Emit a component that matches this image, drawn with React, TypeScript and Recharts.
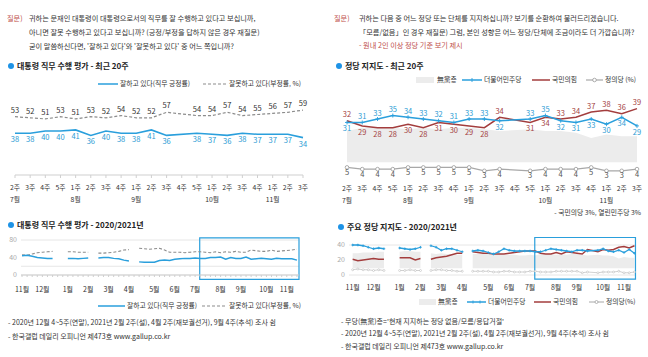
import React from 'react';
import {
  LineChart, Line, ComposedChart, Area, XAxis, YAxis, CartesianGrid, LabelList, ReferenceArea,
} from 'recharts';

const FONT = "'Noto Sans CJK KR', 'Noto Sans', sans-serif";
const BLUE = '#2a9fdc';
const BLUE_TXT = '#2b9bd4';
const RED = '#a33d3d';
const RED_TXT = '#a4423f';
const DASH = '#8c8c8c';
const JUSTICE = '#a8a8a8';
const AREA = '#ececec';
const TXT = '#333';
const Q_RED = '#c0504d';

// 최근 20주: 2021년 7월 2주 ~ 11월 3주 (9월 4주 추석 조사 쉼)
const recentWeeks = ['2주', '3주', '4주', '5주', '1주', '2주', '3주', '4주', '1주', '2주', '3주', '4주', '5주', '1주', '2주', '3주', '4주', '1주', '2주', '3주'];
const recentMonths = ['7월', '', '', '', '8월', '', '', '', '9월', '', '', '', '', '10월', '', '', '', '11월', '', ''];
const recentApproval = [38, 38, 40, 40, 41, 36, 40, 38, 38, 41, 36, null, 38, 37, 36, 38, 37, 37, 37, 34];
const recentDisapproval = [53, 52, 51, 53, 51, 53, 52, 54, 52, 52, 57, null, 54, 54, 57, 54, 55, 56, 57, 59];
const recentMinjoo = [31, 31, 33, 35, 34, 33, 32, 31, 33, 33, 32, null, 33, 35, 32, 31, 33, 30, 34, 29];
const recentPpp = [32, 29, 28, 28, 30, 28, 31, 30, 29, 28, 34, null, 31, 34, 33, 34, 37, 38, 36, 39];
const recentJustice = [5, 4, 4, 4, 5, 5, 5, 5, 5, 3, 4, null, 3, 4, 4, 4, 5, 3, 3, 4];
const recentIndependent = [26, 28, 28, 28, 27, 28, 27, 28, 28, 27, 26, null, 27, 26, 26, 25, 22, 24, 23, 23];

// 2020년 11월 1주 ~ 2021년 7월 1주 (35주), 조사 쉼은 null
const earlyApproval = [44, 45, 43, 40, 39, 38, 38, null, null, 38, 38, 37, 38, 39, null, 39, 40, 40, 38, 37, 34, 32, null, 30, 29, 29, 29, 33, 34, 33, 36, 37, 38, 38, 39];
const earlyDisapproval = [46, 45, 48, 51, 52, 53, 54, null, null, 53, 53, 52, 52, 52, null, 50, 50, 51, 52, 54, 57, 58, null, 61, 60, 59, 60, 61, 57, 52, 52, 52, 51, 52, 53];
const earlyMinjoo = [40, 40, 39, 37, 35, 36, 35, null, null, 36, 35, 34, 35, 37, null, 39, 37, 33, 35, 35, 33, 31, null, 32, 33, 32, 30, 28, 31, 35, 33, 32, 32, 32, 32];
const earlyPpp = [21, 19, 20, 21, 22, 21, 21, null, null, 23, 23, 23, 20, 22, null, 21, 23, 24, 25, 27, 29, 29, null, 31, 30, 29, 29, 28, 28, 28, 29, 30, 31, 32, 32];
const earlyJustice = [7, 8, 7, 7, 6, 7, 6, null, null, 6, 6, 7, 6, 6, null, 6, 7, 7, 6, 6, 5, 5, null, 5, 5, 5, 5, 4, 4, 5, 5, 4, 4, 4, 5];
const earlyIndependent = [29, 29, 30, 30, 30, 31, 31, null, null, 31, 32, 32, 31, 31, null, 29, 28, 29, 28, 28, 27, 27, null, 28, 28, 29, 29, 30, 28, 27, 27, 27, 26, 26, 27];

const monthStarts = [0, 4, 9, 13, 17, 21, 26, 30, 34, 39, 43, 48, 52];
const monthNames = ['11월', '12월', '1월', '2월', '3월', '4월', '5월', '6월', '7월', '8월', '9월', '10월', '11월'];
const CHUSEOK = 46; // 2021년 9월 4주

const recentRows = recentWeeks.map((w, i) => ({
  key: String(i),
  approval: recentApproval[i],
  disapproval: recentDisapproval[i],
  minjoo: recentMinjoo[i],
  ppp: recentPpp[i],
  justice: recentJustice[i],
  independent: recentIndependent[i],
}));

const allApproval = [...earlyApproval, ...recentApproval];
const allDisapproval = [...earlyDisapproval, ...recentDisapproval];
const allMinjoo = [...earlyMinjoo, ...recentMinjoo];
const allPpp = [...earlyPpp, ...recentPpp];
const allJustice = [...earlyJustice, ...recentJustice];
const allIndependent = [...earlyIndependent, ...recentIndependent];

const longRows = allApproval
  .map((_, i) => ({
    i,
    approval: allApproval[i],
    disapproval: allDisapproval[i],
    minjoo: allMinjoo[i],
    ppp: allPpp[i],
    justice: allJustice[i],
    independent: allIndependent[i],
  }))
  .filter((r) => r.i !== CHUSEOK);

const weekTicks = allApproval.map((_, i) => i);

const WeekTick = (props: any) => {
  const { x, y, payload } = props;
  const i = Number(payload.value);
  return (
    <g>
      <text x={x} y={y + 9.5} textAnchor="middle" fontSize={6.8} fill={TXT} fontFamily={FONT}>{recentWeeks[i]}</text>
      {recentMonths[i] ? (
        <text x={x} y={y + 21.5} textAnchor="middle" fontSize={6.8} fill={TXT} fontFamily={FONT}>{recentMonths[i]}</text>
      ) : null}
    </g>
  );
};

const MonthTick = (props: any) => {
  const { x, y, payload } = props;
  const k = monthStarts.indexOf(Number(payload.value));
  if (k < 0) return <g />;
  return (
    <text x={x} y={y + 13} textAnchor="middle" fontSize={7} fill={TXT} fontFamily={FONT}>{monthNames[k]}</text>
  );
};

const makeLabel = (color: string, isTop: (i: number) => boolean, up = 3.5, down = 9) => (props: any) => {
  const x = props.x ?? props.viewBox?.x;
  const y = props.y ?? props.viewBox?.y;
  const { value, index } = props;
  if (value == null || x == null || y == null) return null;
  const top = isTop(index);
  return (
    <text key={index} x={x} y={top ? y - up : y + down} textAnchor="middle" fontSize={7.5} fill={color} fontFamily={FONT}>
      {value}
    </text>
  );
};

const plusDot = (size: number) => (props: any) => {
  const { cx, cy, index, value } = props;
  if (cx == null || cy == null || value == null) return <g key={index} />;
  return (
    <path key={index} d={`M${cx - size},${cy}H${cx + size}M${cx},${cy - size}V${cy + size}`} stroke={BLUE} strokeWidth={0.9} />
  );
};

const TopLeftChart = () => (
  <LineChart width={324} height={120} data={recentRows} margin={{ top: 8, right: 21, left: 15, bottom: 5 }}>
    <XAxis dataKey="key" height={30} axisLine={{ stroke: '#cfcfcf' }} tickLine={{ stroke: '#cfcfcf' }} tickSize={3} interval={0} tick={<WeekTick />} />
    <YAxis hide domain={[0, 70]} />
    <Line dataKey="disapproval" stroke={DASH} strokeWidth={1.2} strokeDasharray="3 2" dot={false} connectNulls isAnimationActive={false}>
      <LabelList dataKey="disapproval" content={makeLabel('#333', () => true, 4)} />
    </Line>
    <Line dataKey="approval" stroke={BLUE} strokeWidth={1.6} dot={false} connectNulls isAnimationActive={false}>
      <LabelList dataKey="approval" content={makeLabel(BLUE_TXT, () => false, 4, 9)} />
    </Line>
  </LineChart>
);

const TopRightChart = () => (
  <ComposedChart width={324} height={120} data={recentRows} margin={{ top: 10, right: 11, left: 23, bottom: 4 }}>
    <XAxis dataKey="key" height={30} axisLine={false} tickLine={false} tickSize={3} interval={0} tick={<WeekTick />} />
    <YAxis hide domain={[0, 44]} />
    <Area dataKey="independent" baseValue={8} stroke="none" fill={AREA} fillOpacity={1} connectNulls isAnimationActive={false} />
    <Line dataKey="justice" stroke={JUSTICE} strokeWidth={1.2} dot={{ r: 1.8, stroke: '#999', strokeWidth: 0.8, fill: '#fff' }} connectNulls isAnimationActive={false}>
      <LabelList dataKey="justice" content={makeLabel('#555', () => false, 4, 7.5)} />
    </Line>
    <Line dataKey="ppp" stroke={RED} strokeWidth={1.5} dot={false} connectNulls isAnimationActive={false}>
      <LabelList dataKey="ppp" content={makeLabel(RED_TXT, (i) => (recentPpp[i] ?? 0) > (recentMinjoo[i] ?? 0))} />
    </Line>
    <Line dataKey="minjoo" stroke={BLUE} strokeWidth={1.5} dot={plusDot(2)} connectNulls isAnimationActive={false}>
      <LabelList dataKey="minjoo" content={makeLabel(BLUE_TXT, (i) => (recentMinjoo[i] ?? 0) > (recentPpp[i] ?? 0))} />
    </Line>
  </ComposedChart>
);

const BottomLeftChart = () => (
  <LineChart width={324} height={70} data={longRows} margin={{ top: 10, right: 25, left: 0, bottom: 5 }}>
    <CartesianGrid vertical={false} stroke="#e6e6e6" />
    <XAxis dataKey="i" type="number" domain={[-0.2, 54.4]} ticks={weekTicks} interval={0} height={20} axisLine={{ stroke: '#cfcfcf' }} tickLine={{ stroke: '#cfcfcf' }} tickSize={2} tick={<MonthTick />} />
    <YAxis domain={[0, 80]} ticks={[0, 20, 40, 60, 80]} width={21} axisLine={false} tickLine={false} tickSize={0} tickMargin={4} tick={{ fontSize: 7, fill: '#aaa', fontFamily: FONT }} />
    <Line dataKey="disapproval" stroke={DASH} strokeWidth={1.1} strokeDasharray="3 2" dot={false} isAnimationActive={false} />
    <Line dataKey="approval" stroke={BLUE} strokeWidth={1.5} dot={false} isAnimationActive={false} />
    <ReferenceArea x1={34.9} x2={54.4} y1={-10} y2={85} ifOverflow="visible" fill="none" fillOpacity={0} stroke={BLUE} strokeWidth={1.2} />
  </LineChart>
);

const BottomRightChart = () => (
  <ComposedChart width={324} height={60} data={longRows} margin={{ top: 10, right: 12, left: 0, bottom: 4 }}>
    <CartesianGrid vertical={false} stroke="#e6e6e6" />
    <XAxis dataKey="i" type="number" domain={[-0.7, 54.3]} ticks={weekTicks} interval={0} height={16} axisLine={false} tickLine={false} tickSize={0} tick={<MonthTick />} />
    <YAxis domain={[0, 40]} ticks={[0, 20, 40]} width={25} axisLine={false} tickLine={false} tickSize={0} tickMargin={4} tick={{ fontSize: 7, fill: '#aaa', fontFamily: FONT }} />
    <Area dataKey="independent" baseValue={9} stroke="none" fill={AREA} fillOpacity={1} isAnimationActive={false} />
    <Line dataKey="justice" stroke="#bdbdbd" strokeWidth={0.7} dot={{ r: 1, stroke: '#b5b5b5', strokeWidth: 0.5, fill: '#fff' }} isAnimationActive={false} />
    <Line dataKey="ppp" stroke={RED} strokeWidth={1.4} dot={false} isAnimationActive={false} />
    <Line dataKey="minjoo" stroke={BLUE} strokeWidth={1.3} dot={plusDot(1.3)} isAnimationActive={false} />
    <ReferenceArea x1={34.9} x2={54.2} y1={-5.5} y2={50} ifOverflow="visible" fill="none" fillOpacity={0} stroke={BLUE} strokeWidth={1.2} />
  </ComposedChart>
);

const Txt = ({ x, y, size = 7.2, color = TXT, bold = false, anchor = 'start', children }: any) => (
  <text x={x} y={y + size * 0.36} fontSize={size} fill={color} fontWeight={bold ? 700 : 400} textAnchor={anchor} fontFamily={FONT}>
    {children}
  </text>
);

const Title = ({ x, y, children }: any) => (
  <g>
    <circle cx={x + 3} cy={y} r={3} fill="#1e93e6" />
    <Txt x={x + 9} y={y} size={8} bold color="#222">{children}</Txt>
  </g>
);

const SolidKey = ({ x1, x2, y, color }: any) => <line x1={x1} x2={x2} y1={y} y2={y} stroke={color} strokeWidth={1.5} />;

export default function App() {
  return (
    <div style={{ position: 'absolute', left: 0, top: 0, width: 648, height: 357, background: '#fff', overflow: 'hidden' }}>
      <div style={{ position: 'absolute', left: 0, top: 90 }}><TopLeftChart /></div>
      <div style={{ position: 'absolute', left: 324, top: 90 }}><TopRightChart /></div>
      <div style={{ position: 'absolute', left: 0, top: 230 }}><BottomLeftChart /></div>
      <div style={{ position: 'absolute', left: 324, top: 235 }}><BottomRightChart /></div>

      <svg width={648} height={357} style={{ position: 'absolute', left: 0, top: 0, pointerEvents: 'none' }}>
        {/* 질문 (왼쪽) */}
        <Txt x={7} y={18} color={Q_RED}>질문)</Txt>
        <Txt x={29} y={18}>귀하는 문재인 대통령이 대통령으로서의 직무를 잘 수행하고 있다고 보십니까,</Txt>
        <Txt x={29} y={32}>아니면 잘못 수행하고 있다고 보십니까? (긍정/부정을 답하지 않은 경우 재질문)</Txt>
        <Txt x={29} y={46}>굳이 말씀하신다면, '잘하고 있다'와 '잘못하고 있다' 중 어느 쪽입니까?</Txt>

        {/* 질문 (오른쪽) */}
        <Txt x={334} y={18} color={Q_RED}>질문)</Txt>
        <Txt x={359} y={18}>귀하는 다음 중 어느 정당 또는 단체를 지지하십니까? 보기를 순환하여 불러드리겠습니다.</Txt>
        <Txt x={359} y={32}>「모름/없음」인 경우 재질문) 그럼, 본인 성향은 어느 정당/단체에 조금이라도 더 가깝습니까?</Txt>
        <Txt x={359} y={45} color={Q_RED}>- 원내 2인 이상 정당 기준 보기 제시</Txt>

        <Title x={8} y={66}>대통령 직무 수행 평가 - 최근 20주</Title>
        <Title x={336} y={66}>정당 지지도 - 최근 20주</Title>

        {/* 범례: 직무 평가 최근 20주 */}
        <SolidKey x1={98} x2={118} y={84} color={BLUE} />
        <Txt x={120} y={84} size={6.8}>잘하고 있다(직무 긍정률)</Txt>
        <line x1={203} x2={227} y1={84} y2={84} stroke={DASH} strokeWidth={1.1} strokeDasharray="3 2" />
        <Txt x={229} y={84} size={6.8}>잘못하고 있다(부정률, %)</Txt>

        {/* 범례: 정당 지지도 최근 20주 */}
        <rect x={416} y={77} width={18} height={6} fill={AREA} />
        <Txt x={437} y={80} size={6.8}>無黨층</Txt>
        <SolidKey x1={462} x2={482} y={80} color={BLUE} />
        <path d="M472,78V82" stroke={BLUE} strokeWidth={0.9} />
        <Txt x={484} y={80} size={6.8}>더불어민주당</Txt>
        <SolidKey x1={532} x2={550} y={80} color={RED} />
        <Txt x={552} y={80} size={6.8}>국민의힘</Txt>
        <line x1={586} x2={603} y1={80} y2={80} stroke={JUSTICE} strokeWidth={1.2} />
        <circle cx={594.5} cy={80} r={1.8} fill="#fff" stroke="#999" strokeWidth={0.8} />
        <Txt x={605} y={80} size={6.8}>정의당 (%)</Txt>

        <Txt x={641} y={213} size={6.8} anchor="end">- 국민의당 3%, 열린민주당 3%</Txt>

        <Title x={8} y={225}>대통령 직무 수행 평가 - 2020/2021년</Title>
        <Title x={338} y={227}>주요 정당 지지도 - 2020/2021년</Title>

        {/* 범례: 직무 평가 2020/2021 */}
        <SolidKey x1={98} x2={125} y={306} color={BLUE} />
        <Txt x={127} y={306} size={6.8}>잘하고 있다(직무 긍정률)</Txt>
        <line x1={202} x2={227} y1={306} y2={306} stroke={DASH} strokeWidth={1.1} strokeDasharray="3 2" />
        <Txt x={229} y={306} size={6.8}>잘못하고 있다(부정률, %)</Txt>
        <Txt x={8} y={322} size={7}>- 2020년 12월 4~5주(연말), 2021년 2월 2주(설), 4월 2주(재보궐선거), 9월 4주(추석) 조사 쉼</Txt>
        <Txt x={8} y={336} size={7}>- 한국갤럽 데일리 오피니언 제473호 www.gallup.co.kr</Txt>

        {/* 범례: 정당 지지도 2020/2021 */}
        <rect x={419} y={299} width={17} height={6} fill={AREA} />
        <Txt x={438} y={302} size={6.8}>無黨층</Txt>
        <SolidKey x1={467} x2={486} y={302} color={BLUE} />
        <path d="M473,300.5V303.5M480,300.5V303.5" stroke={BLUE} strokeWidth={0.9} />
        <Txt x={488} y={302} size={6.8}>더불어민주당</Txt>
        <SolidKey x1={534} x2={551} y={302} color={RED} />
        <Txt x={553} y={302} size={6.8}>국민의힘</Txt>
        <line x1={589} x2={604} y1={302} y2={302} stroke={JUSTICE} strokeWidth={1} />
        <circle cx={596.5} cy={302} r={1.5} fill="#fff" stroke="#999" strokeWidth={0.7} />
        <Txt x={606} y={302} size={6.8}>정의당(%)</Txt>
        <Txt x={341} y={321} size={7}>- 무당(無黨)층='현재 지지하는 정당 없음/모름/응답거절'</Txt>
        <Txt x={341} y={333} size={7}>- 2020년 12월 4~5주(연말), 2021년 2월 2주(설), 4월 2주(재보궐선거), 9월 4주(추석) 조사 쉼</Txt>
        <Txt x={341} y={346} size={7}>- 한국갤럽 데일리 오피니언 제473호 www.gallup.co.kr</Txt>
      </svg>
    </div>
  );
}
